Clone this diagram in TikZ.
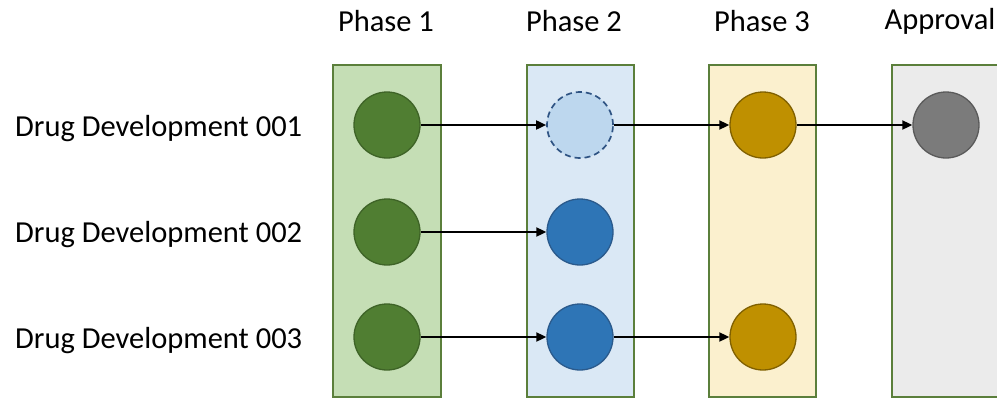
\documentclass[tikz,border=0pt]{standalone}
\usepackage{fontspec}
\setmainfont{Carlito}
\usetikzlibrary{arrows.meta}
\definecolor{bordergreen}{HTML}{5B7F3B}
\definecolor{p1fill}{HTML}{C5DEB5}
\definecolor{p2fill}{HTML}{DAE8F5}
\definecolor{p3fill}{HTML}{FBF0CE}
\definecolor{apfill}{HTML}{EBEBEB}
\definecolor{greenin}{HTML}{507E32}
\definecolor{greenout}{HTML}{3E6327}
\definecolor{paleblue}{HTML}{BDD7EE}
\definecolor{paleblueout}{HTML}{2E5383}
\definecolor{bluein}{HTML}{2E75B6}
\definecolor{blueout}{HTML}{2A5A8C}
\definecolor{goldin}{HTML}{BF9000}
\definecolor{goldout}{HTML}{806000}
\definecolor{grayin}{HTML}{7B7B7B}
\definecolor{grayout}{HTML}{5A5A5A}
\begin{document}
\begin{tikzpicture}[x=1pt,y=-1pt,
  phasebox/.style={draw=bordergreen,line width=1.3pt},
  dot/.style={circle,minimum size=66pt,inner sep=0pt,line width=1.3pt},
  greendot/.style={dot,fill=greenin,draw=greenout},
  planned/.style={dot,fill=paleblue,draw=paleblueout,line width=1.7pt,dash pattern=on 6pt off 4pt},
  bluedot/.style={dot,fill=bluein,draw=blueout},
  golddot/.style={dot,fill=goldin,draw=goldout},
  graydot/.style={dot,fill=grayin,draw=grayout},
  flow/.style={-{Triangle[length=10pt,width=9pt]},line width=1.8pt},
  rowlabel/.style={anchor=west,font=\fontsize{30.5}{34}\selectfont,inner sep=0pt},
  header/.style={font=\fontsize{30.5}{34}\selectfont,inner sep=0pt},
]
\useasboundingbox (0,0) rectangle (997,399);
\clip (0,0) rectangle (997,399);

% phase columns
\fill[p1fill] (333,65) rectangle (441,397);
\draw[phasebox] (333,65) rectangle (441,397);
\fill[p2fill] (527,65) rectangle (634,397);
\draw[phasebox] (527,65) rectangle (634,397);
\fill[p3fill] (709,65) rectangle (816,397);
\draw[phasebox] (709,65) rectangle (816,397);
\fill[apfill] (892,65) rectangle (1000,397);
\draw[phasebox] (892,65) rectangle (1000,397);

% headers
\node[header] (h1) at (386,21) {Phase 1};
\node[header] (h2) at (574,21) {Phase 2};
\node[header] (h3) at (762,21) {Phase 3};
\node[header] (h4) at (940,21) {Approval};

% row labels
\node[rowlabel] (r1) at (15,129) {Drug Development 001};
\node[rowlabel] (r2) at (15,235) {Drug Development 002};
\node[rowlabel] (r3) at (15,341) {Drug Development 003};

% row 1
\node[greendot] (a1) at (387,125) {};
\node[planned]  (a2) at (580,125) {};
\node[golddot]  (a3) at (763,125) {};
\node[graydot]  (a4) at (946,125) {};
% row 2
\node[greendot] (b1) at (387,232) {};
\node[bluedot]  (b2) at (580,232) {};
% row 3
\node[greendot] (c1) at (387,337) {};
\node[bluedot]  (c2) at (580,337) {};
\node[golddot]  (c3) at (763,337) {};

\draw[flow] (a1) -- (a2);
\draw[flow] (a2) -- (a3);
\draw[flow] (a3) -- (a4);
\draw[flow] (b1) -- (b2);
\draw[flow] (c1) -- (c2);
\draw[flow] (c2) -- (c3);
\end{tikzpicture}
\end{document}
